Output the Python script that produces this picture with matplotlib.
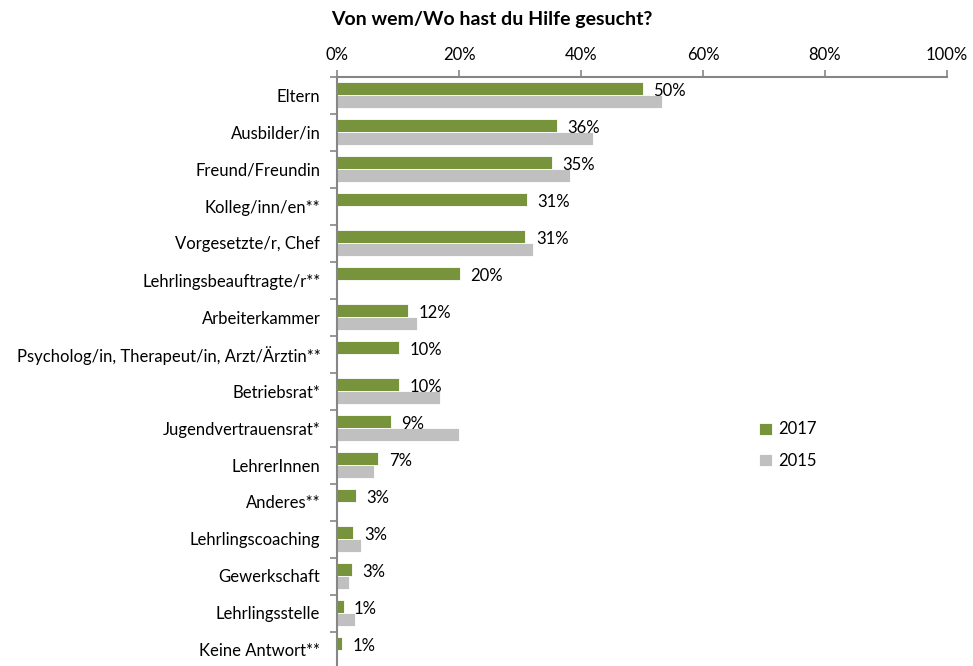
import matplotlib
matplotlib.use('Agg')
import matplotlib.pyplot as plt
import numpy as np

plt.rcParams['font.family'] = ['Lato', 'DejaVu Sans']

# Kategorien (von oben nach unten)
kategorien = ['Eltern', 'Ausbilder/in', 'Freund/Freundin', 'Kolleg/inn/en**',
              'Vorgesetzte/r, Chef', 'Lehrlingsbeauftragte/r**', 'Arbeiterkammer',
              'Psycholog/in, Therapeut/in, Arzt/Ärztin**', 'Betriebsrat*',
              'Jugendvertrauensrat*', 'LehrerInnen', 'Anderes**', 'Lehrlingscoaching',
              'Gewerkschaft', 'Lehrlingsstelle', 'Keine Antwort**']
werte_2017 = [50.1, 36.0, 35.2, 31.2, 30.9, 20.2, 11.6, 10.2, 10.2, 8.8, 6.8, 3.1, 2.7, 2.5, 1.1, 0.8]
werte_2015 = [53.2, 42.0, 38.2, 0, 32.1, 0, 13.1, 0, 16.9, 20.0, 6.0, 0, 4.0, 2.0, 3.0, 0]
labels_2017 = ['50%', '36%', '35%', '31%', '31%', '20%', '12%', '10%', '10%', '9%',
               '7%', '3%', '3%', '3%', '1%', '1%']
ticks = [0, 20, 40, 60, 80, 100]

gruen = '#77933C'
grau = '#C0C0C0'

fig = plt.figure(figsize=(9.73, 6.66), dpi=100)
ax = fig.add_axes([337 / 973, -2.5 / 666, 610 / 973, 592 / 666])

y = np.arange(len(kategorien))
h = 0.36
ax.barh(y - h / 2, werte_2017, height=h, color=gruen, edgecolor='white', linewidth=0.6, label='2017')
ax.barh(y + h / 2, werte_2015, height=h, color=grau, edgecolor='white', linewidth=0.6, label='2015')

for i, (v, t) in enumerate(zip(werte_2017, labels_2017)):
    ax.text(v + 1.7, i - h / 2 + 0.06, t, va='center', ha='left', fontsize=12, color='black')

ax.set_xlim(0, 100)
ax.set_ylim(len(kategorien) - 0.5, -0.5)
ax.xaxis.tick_top()
ax.set_xticks(ticks)
ax.set_xticklabels([f'{t}%' for t in ticks], fontsize=12)
ax.set_yticks(y)
ax.set_yticklabels(kategorien, fontsize=12)
ax.set_yticks(np.arange(len(kategorien) + 1) - 0.5, minor=True)
ax.tick_params(axis='y', which='major', length=0, pad=12)
ax.tick_params(axis='y', which='minor', length=5, color='#868686', width=1.2, direction='out')
ax.tick_params(axis='x', length=5, color='#868686', width=1.2, direction='out', pad=5)

for s in ['right', 'bottom']:
    ax.spines[s].set_visible(False)
for s in ['top', 'left']:
    ax.spines[s].set_color('#868686')
    ax.spines[s].set_linewidth(1.5)

ax.legend(loc='center left', bbox_to_anchor=(744 / 973, 1 - 445 / 666),
          bbox_transform=fig.transFigure, frameon=False, fontsize=12,
          handlelength=0.75, handleheight=0.75, handletextpad=0.4, labelspacing=0.9)

fig.text(492 / 973, 1 - 20 / 666, 'Von wem/Wo hast du Hilfe gesucht?', ha='center', va='center',
         fontsize=14, fontweight='bold')

fig.savefig('out.png', dpi=100)
